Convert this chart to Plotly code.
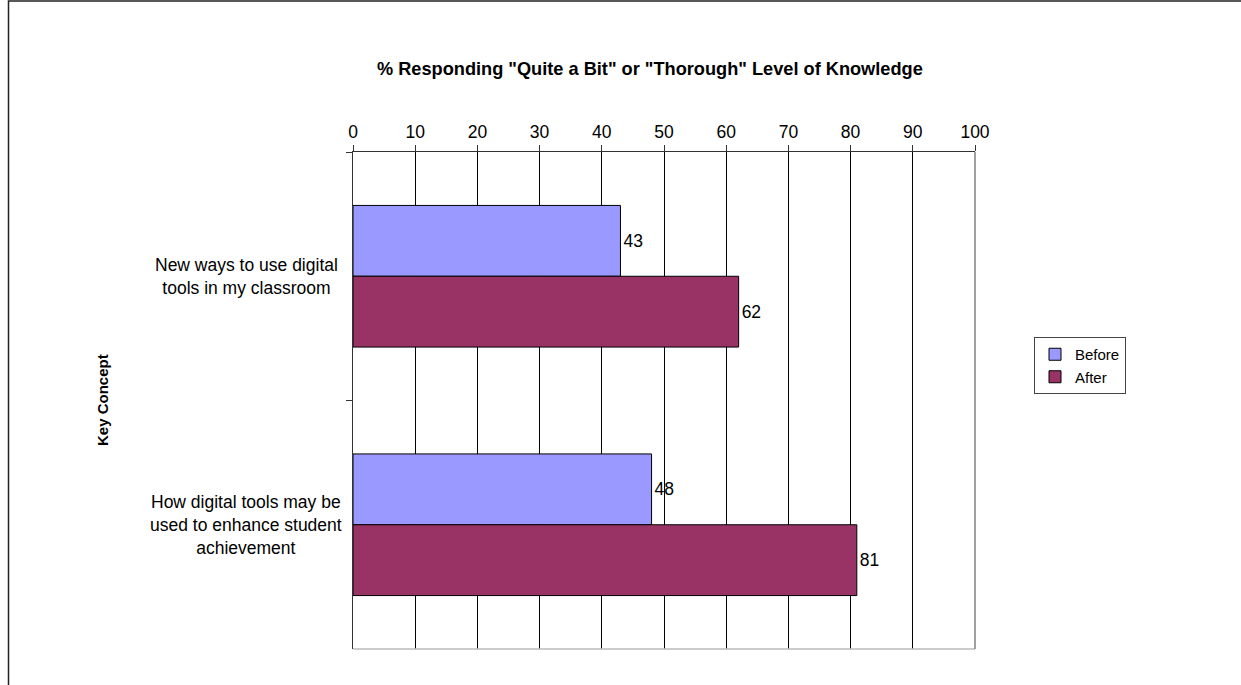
import plotly.graph_objects as go

# Survey data: share responding "Quite a Bit" or "Thorough"
categories = [
    "New ways to use digital<br>tools in my classroom",
    "How digital tools may be<br>used to enhance student<br>achievement",
]
before_values = [43, 48]
after_values = [62, 81]
x_ticks = [0, 10, 20, 30, 40, 50, 60, 70, 80, 90, 100]

W, H = 1241, 685
L, R, T, B = 353, 266, 152, 36
PW, PH = W - L - R, H - T - B


def px_x(p):
    return (p - L) / PW


def px_y(p):
    return (H - B - p) / PH


FONT = "Liberation Sans, Arial, sans-serif"

fig = go.Figure()
fig.add_trace(go.Bar(
    name="Before", y=categories, x=before_values, orientation="h",
    marker=dict(color="#9999FF", line=dict(color="#000000", width=1)),
    text=before_values, textposition="outside", cliponaxis=False,
    textfont=dict(family=FONT, size=17.5, color="#000000"),
))
fig.add_trace(go.Bar(
    name="After", y=categories, x=after_values, orientation="h",
    marker=dict(color="#993366", line=dict(color="#000000", width=1)),
    text=after_values, textposition="outside", cliponaxis=False,
    textfont=dict(family=FONT, size=17.5, color="#000000"),
))

fig.update_layout(
    width=W, height=H,
    margin=dict(l=L, r=R, t=T, b=B, pad=0),
    paper_bgcolor="#ffffff", plot_bgcolor="#ffffff",
    barmode="group", bargap=0.43, bargroupgap=0,
    font=dict(family=FONT, size=17.5, color="#000000"),
    showlegend=True,
    legend=dict(
        x=px_x(1034), y=px_y(337), xanchor="left", yanchor="top",
        bordercolor="#444444", borderwidth=1, bgcolor="#ffffff",
        font=dict(family=FONT, size=15, color="#000000"),
        traceorder="normal", itemwidth=30, tracegroupgap=0,
    ),
    xaxis=dict(
        side="top", range=[0, 100], tickvals=x_ticks,
        ticks="outside", ticklen=6, tickcolor="#333333", tickwidth=1,
        showline=True, linecolor="#333333", linewidth=1,
        showgrid=True, gridcolor="#000000", gridwidth=1,
        zeroline=False, tickfont=dict(family=FONT, size=17.5),
        fixedrange=True,
    ),
    yaxis=dict(
        type="category", autorange="reversed",
        showticklabels=False, ticks="outside", ticklen=6,
        tickson="boundaries", tickcolor="#333333",
        showline=True, linecolor="#333333", linewidth=1,
        showgrid=False, zeroline=False, fixedrange=True,
    ),
)

# Category labels, centred block text to the left of the axis
for cat in categories:
    fig.add_annotation(
        x=px_x(246), y=cat, xref="paper", yref="y",
        text=cat, showarrow=False, xanchor="center", yanchor="middle",
        align="center", font=dict(family=FONT, size=17.5, color="#000000"),
    )

# Chart title
fig.add_annotation(
    x=px_x(650), y=px_y(69), xref="paper", yref="paper",
    text='<b>% Responding "Quite a Bit" or "Thorough" Level of Knowledge</b>',
    showarrow=False, xanchor="center", yanchor="middle",
    font=dict(family=FONT, size=18.2, color="#000000"),
)

# Vertical axis title
fig.add_annotation(
    x=px_x(102), y=px_y(400), xref="paper", yref="paper",
    text="<b>Key Concept</b>", textangle=-90, showarrow=False,
    xanchor="center", yanchor="middle",
    font=dict(family=FONT, size=15, color="#000000"),
)

# Plot-area edges (bottom and right) in light grey
fig.add_shape(type="line", xref="paper", yref="paper", x0=0, x1=1, y0=0, y1=0,
              line=dict(color="#bbbbbb", width=1.5))
fig.add_shape(type="line", xref="paper", yref="paper", x0=1, x1=1, y0=0, y1=1,
              line=dict(color="#808080", width=1.5))

# Outer chart frame
fig.add_shape(type="rect", xref="paper", yref="paper",
              x0=px_x(8.5), x1=px_x(1260), y0=px_y(1), y1=px_y(700),
              line=dict(color="#222222", width=1.5), fillcolor="rgba(0,0,0,0)",
              layer="above")

fig.write_html("out.html")
